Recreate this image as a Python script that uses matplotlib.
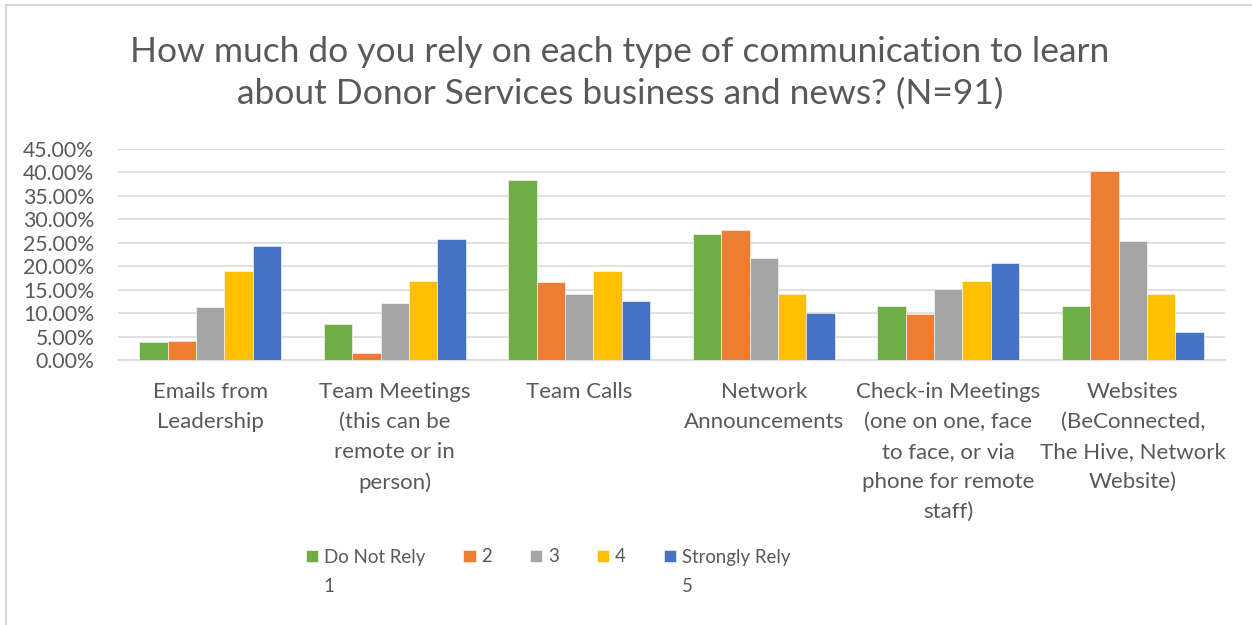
import matplotlib
matplotlib.use("Agg")
import matplotlib.pyplot as plt
from matplotlib.lines import Line2D
from matplotlib.ticker import FuncFormatter, MultipleLocator
import numpy as np

plt.rcParams['font.family'] = ['Lato', 'DejaVu Sans']

categories = [
    "Emails from\nLeadership",
    "Team Meetings\n(this can be\nremote or in\nperson)",
    "Team Calls",
    "Network\nAnnouncements",
    "Check-in Meetings\n(one on one, face\nto face, or via\nphone for remote\nstaff)",
    "Websites\n(BeConnected,\nThe Hive, Network\nWebsite)",
]
# legend names; the second line of a wrapped name is placed under the first
series_labels = ["Do Not Rely", "2", "3", "4", "Strongly Rely"]
series_sublabels = ["1", "", "", "", "5"]
rely_1 = [3.85, 7.75, 38.40, 26.90, 11.50, 11.50]
rely_2 = [4.12, 1.42, 16.63, 27.79, 9.74, 40.30]
rely_3 = [11.30, 12.22, 14.14, 21.68, 15.07, 25.44]
rely_4 = [18.90, 16.84, 18.90, 14.14, 16.84, 14.14]
rely_5 = [24.30, 25.87, 12.65, 10.09, 20.75, 6.04]
series_values = [rely_1, rely_2, rely_3, rely_4, rely_5]
colors = ["#70AD47", "#ED7D31", "#A5A5A5", "#FFC000", "#4472C4"]

text_color = "#595959"
grid_color = "#D9D9D9"
W, H = 1252, 625

fig = plt.figure(figsize=(W / 100, H / 100), dpi=100)
fig.patch.set_facecolor("white")

# thin frame along the top and left edges
fig.add_artist(Line2D([6 / W, 6 / W], [0, 1 - 5 / H], transform=fig.transFigure,
                      color=grid_color, lw=1.5))
fig.add_artist(Line2D([6 / W, 1], [1 - 5 / H, 1 - 5 / H], transform=fig.transFigure,
                      color=grid_color, lw=1.5))

ax = fig.add_axes([118 / W, 1 - 360 / H, (1225 - 118) / W, (360 - 149) / H])

x = np.arange(len(categories))
bar_w = 0.154
for i, (vals, lab, col) in enumerate(zip(series_values, series_labels, colors)):
    offs = (i - 2) * bar_w
    ax.bar(x + offs, np.array(vals) / 100.0, width=bar_w, color=col, label=lab,
           edgecolor="white", linewidth=0.4, zorder=3)

ax.set_xlim(-0.5, len(categories) - 0.5)
ax.set_ylim(0, 0.45)
ax.yaxis.set_major_locator(MultipleLocator(0.05))
ax.yaxis.set_major_formatter(FuncFormatter(lambda v, p: f"{v * 100:.2f}%"))
ax.grid(axis="y", color=grid_color, linewidth=1.1, zorder=0)
ax.set_axisbelow(True)
for s in ["top", "right", "left"]:
    ax.spines[s].set_visible(False)
ax.spines["bottom"].set_color(grid_color)
ax.spines["bottom"].set_linewidth(1.1)

ax.set_xticks(x)
ax.set_xticklabels(categories, fontsize=16, color=text_color, linespacing=1.62, va="top")
ax.tick_params(axis="x", length=0, pad=16)
ax.tick_params(axis="y", length=0, pad=17, labelsize=15.3, labelcolor=text_color)

fig.text(0.495, 1 - 73 / H, "How much do you rely on each type of communication to learn\n"
         "about Donor Services business and news? (N=91)",
         ha="center", va="center", fontsize=25.5, color=text_color, linespacing=1.38)

leg_fs = 13.4
leg = ax.legend(loc="center left", bbox_to_anchor=(306 / W, 1 - 557 / H),
                bbox_transform=fig.transFigure, ncol=5, frameon=False,
                fontsize=leg_fs, handlelength=0.66, handleheight=0.66, handletextpad=0.3,
                columnspacing=2.05, labelcolor=text_color, borderaxespad=0, borderpad=0)

fig.canvas.draw()
renderer = fig.canvas.get_renderer()
inv = fig.transFigure.inverted()
for txt, sub in zip(leg.get_texts(), series_sublabels):
    if not sub:
        continue
    bb = txt.get_window_extent(renderer)
    x0, y0 = inv.transform((bb.x0, bb.y0 - 30))
    fig.text(x0, y0 + (bb.height / 2) / H, sub, ha="left", va="center",
             fontsize=leg_fs, color=text_color)

fig.savefig("out.png", dpi=100, facecolor="white")
